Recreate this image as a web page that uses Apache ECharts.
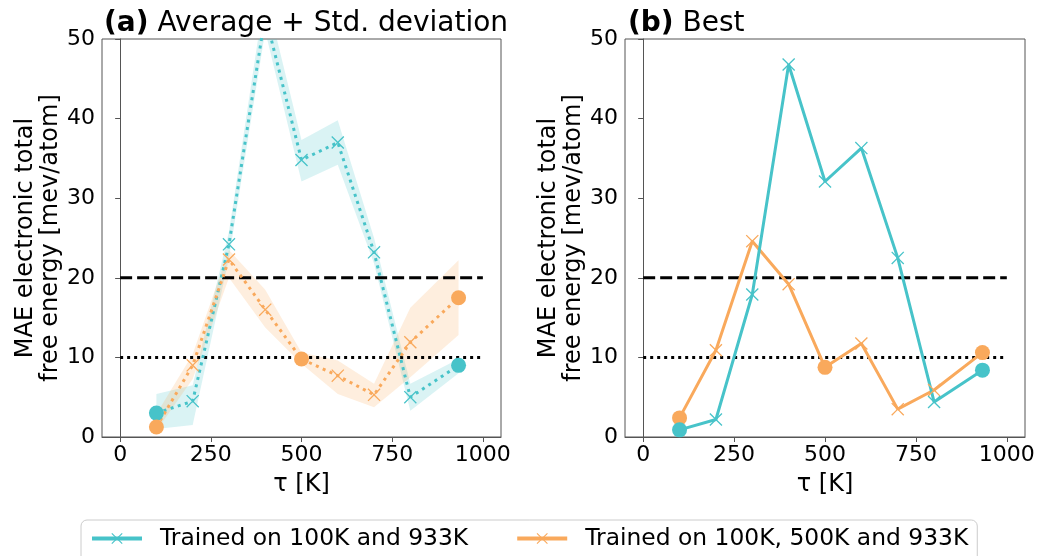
<!DOCTYPE html>
<html>
<head>
<meta charset="utf-8">
<script src="https://cdn.jsdelivr.net/npm/echarts@6/dist/echarts.min.js"></script>
<style>
  html, body { margin: 0; padding: 0; background: #fff; }
  #box { width: 1041px; height: 556px; }
</style>
</head>
<body>
<div id="box"></div>
<script>
// temperatures (x)
const tau = [100, 200, 300, 400, 500, 600, 700, 800, 933];

// (a) average + std deviation
const avgCyan = [3.0, 4.5, 24.2, 53.0, 34.8, 37.0, 23.2, 5.0, 9.0];
const avgCyanLo = [1.0, 1.5, 22.5, 51.0, 32.1, 34.2, 21.8, 3.3, 8.0];
const avgCyanHi = [5.4, 6.5, 25.8, 56.0, 37.3, 39.8, 25.0, 6.7, 9.8];
const avgOrange = [1.25, 9.0, 22.3, 16.0, 9.8, 7.7, 5.3, 11.9, 17.5];
const avgOrangeLo = [0.8, 7.3, 20.0, 13.75, 9.2, 5.4, 3.75, 7.5, 12.8];
const avgOrangeHi = [2.9, 10.4, 23.5, 18.5, 10.6, 9.6, 6.7, 16.25, 22.2];

// (b) best
const bestCyan = [0.9, 2.2, 17.9, 46.8, 32.1, 36.3, 22.5, 4.4, 8.4];
const bestOrange = [2.4, 10.9, 24.6, 19.2, 8.75, 11.75, 3.5, 5.9, 10.6];

// training temperatures (drawn as circles)
const trainCyan = [100, 933];
const trainOrange = [100, 500, 933];

// thresholds
const dashLevel = 20;
const dotLevel = 10;
const xTicks = [0, 250, 500, 750, 1000];

const nameCyan = 'Trained on 100K and 933K';
const nameOrange = 'Trained on 100K, 500K and 933K';
const cCyan = '#47C3C9';
const cOrange = '#F9A95C';
const font = 'DejaVu Sans';

// x-shaped marker
const xMark = 'path://M0,0.7L0.7,0L5,4.3L9.3,0L10,0.7L5.7,5L10,9.3L9.3,10L5,5.7L0.7,10L0,9.3L4.3,5Z';

function points(vals, train, color) {
    return tau.map((t, i) => {
        if (train.indexOf(t) >= 0) {
            return { value: [t, vals[i]], symbol: 'circle', symbolSize: 15,
                     itemStyle: { color: color } };
        }
        return [t, vals[i]];
    });
}

// std band as one polygon (upper edge forward, lower edge back)
function band(lo, hi, color, idx) {
    return {
        type: 'custom', xAxisIndex: idx, yAxisIndex: idx, silent: true, z: 1, clip: true,
        data: tau.map((t, i) => [t, lo[i], hi[i]]),
        encode: { x: 0, y: [1, 2] },
        renderItem: function (params, api) {
            if (params.dataIndex !== 0) return null;
            let pts = [];
            for (let i = 0; i < tau.length; i++) pts.push(api.coord([tau[i], hi[i]]));
            for (let i = tau.length - 1; i >= 0; i--) pts.push(api.coord([tau[i], lo[i]]));
            const cs = params.coordSys;
            return {
                type: 'polygon',
                shape: { points: pts },
                style: { fill: color, opacity: 0.2 },
                clipPath: { type: 'rect', shape: { x: cs.x, y: cs.y, width: cs.width, height: cs.height } }
            };
        }
    };
}

function hline(level, type, idx) {
    return {
        name: 'h' + level + idx, type: 'line', xAxisIndex: idx, yAxisIndex: idx,
        data: [[0, level], [1000, level]], symbol: 'none', silent: true, z: 2,
        lineStyle: { color: '#000', width: 3, type: type }
    };
}

function mainLine(name, vals, train, color, dotted, idx) {
    return {
        name: name, type: 'line', xAxisIndex: idx, yAxisIndex: idx,
        data: points(vals, train, color),
        symbol: xMark, symbolSize: 13, z: 5,
        itemStyle: { color: color },
        lineStyle: { color: color, width: 3, type: dotted ? [3, 4.5] : 'solid' }
    };
}

function xAx(idx) {
    return {
        type: 'value', gridIndex: idx, min: -50, max: 1050,
        name: 'τ [K]', nameLocation: 'middle', nameGap: 36,
        nameTextStyle: { fontFamily: font, fontSize: 24, color: '#000' },
        axisLine: { show: true, onZero: false, lineStyle: { color: '#555' } },
        axisTick: { show: true, customValues: xTicks, length: 5, lineStyle: { color: '#555' } },
        axisLabel: { customValues: xTicks, fontFamily: font, fontSize: 22, color: '#000', margin: 7,
                     formatter: v => String(v) },
        splitLine: { show: false }
    };
}

function yAx(idx) {
    return {
        type: 'value', gridIndex: idx, min: 0, max: 50, interval: 10,
        name: 'MAE electronic total\nfree energy [mev/atom]', nameLocation: 'middle', nameGap: 39,
        nameTextStyle: { fontFamily: font, fontSize: 24, color: '#000', lineHeight: 25 },
        axisLine: { show: true, lineStyle: { color: '#555' } },
        axisTick: { show: true, length: 5, lineStyle: { color: '#555' } },
        axisLabel: { fontFamily: font, fontSize: 22, color: '#000', margin: 7 },
        splitLine: { show: false }
    };
}

const chart = echarts.init(document.getElementById('box'), null, { renderer: 'canvas' });

const titleStyle = {
    fontFamily: font, fontSize: 28, fontWeight: 'normal', color: '#000',
    rich: { b: { fontFamily: font, fontSize: 28, fontWeight: 'bold', color: '#000' } }
};

const option = {
    backgroundColor: '#fff',
    animation: false,
    title: [
        { text: '{b|(a)} Average + Std. deviation', left: 99, top: 5, textStyle: titleStyle },
        { text: '{b|(b)} Best', left: 623, top: 5, textStyle: titleStyle }
    ],
    legend: {
        data: [nameCyan, nameOrange],
        left: 81, top: 520,
        padding: [7, 9, 30, 9],
        itemWidth: 50, itemHeight: 14, itemGap: 47,
        lineStyle: { type: 'solid', width: 4 },
        borderColor: '#ccc', borderWidth: 1, borderRadius: 6,
        textStyle: { fontFamily: font, fontSize: 23.4, color: '#000', padding: [0, 0, 0, 13] }
    },
    grid: [
        { left: 102, top: 39, width: 399, height: 398, show: true, borderColor: '#555', borderWidth: 1 },
        { left: 625, top: 39, width: 400, height: 398, show: true, borderColor: '#555', borderWidth: 1 }
    ],
    xAxis: [xAx(0), xAx(1)],
    yAxis: [yAx(0), yAx(1)],
    series: [
        // (a)
        band(avgCyanLo, avgCyanHi, cCyan, 0),
        band(avgOrangeLo, avgOrangeHi, cOrange, 0),
        hline(dashLevel, [12, 5], 0),
        hline(dotLevel, [3, 4], 0),
        mainLine(nameCyan, avgCyan, trainCyan, cCyan, true, 0),
        mainLine(nameOrange, avgOrange, trainOrange, cOrange, true, 0),
        // (b)
        hline(dashLevel, [12, 5], 1),
        hline(dotLevel, [3, 4], 1),
        mainLine(nameOrange, bestOrange, trainOrange, cOrange, false, 1),
        mainLine(nameCyan, bestCyan, trainCyan, cCyan, false, 1)
    ]
};

chart.setOption(option);
</script>
</body>
</html>
